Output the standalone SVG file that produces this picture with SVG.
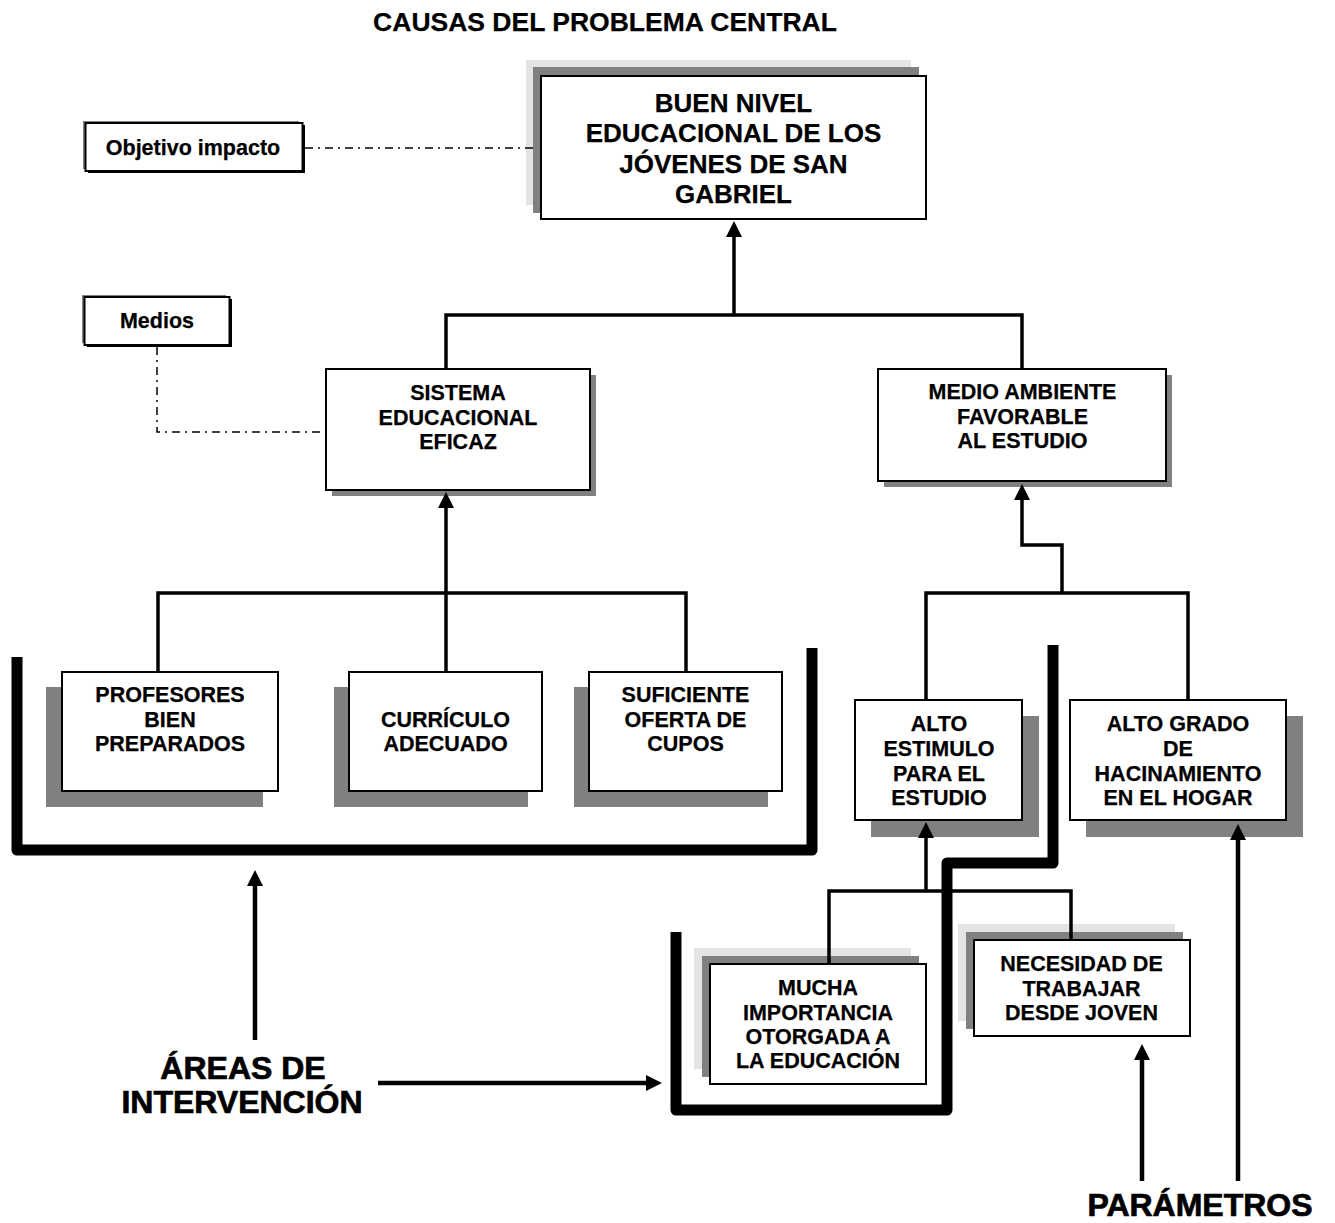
<svg xmlns="http://www.w3.org/2000/svg" width="1335" height="1223" viewBox="0 0 1335 1223">
  <defs>
    <style>
      .box{fill:#fff;stroke:#000;stroke-width:2}
      .sh{fill:#808080}
      .sh2{fill:#e4e4e4}
      .blk{fill:#000}
      .t{font-family:'Liberation Sans',Arial,Helvetica,sans-serif;font-weight:bold;font-size:21.5px;text-anchor:middle;fill:#000;stroke:#000;stroke-width:0.25}
      .tb{font-size:26px}
      .ttl{font-size:26.5px}
      .big{font-size:32px;stroke-width:0.7}
      .ln{fill:none;stroke:#000;stroke-width:3.5}
      .arr{fill:none;stroke:#000;stroke-width:4.5}
      .mk{marker-end:url(#ah)}
      .dd{fill:none;stroke:#000;stroke-width:1.5;stroke-dasharray:8 5 2 5}
      .br{fill:none;stroke:#000;stroke-width:11;stroke-linejoin:round}
    </style>
    <marker id="ah" viewBox="0 0 16 16" refX="2" refY="8" markerWidth="16" markerHeight="16" markerUnits="userSpaceOnUse" orient="auto">
      <path d="M0,0 L16,8 L0,16 z" fill="#000"/>
    </marker>
  </defs>

  <rect width="1335" height="1223" fill="#fff"/>

  <text class="t ttl" x="605" y="31">CAUSAS DEL PROBLEMA CENTRAL</text>

  <!-- goal node -->
  <g id="objetivo-central">
    <rect class="sh2" x="526" y="60" width="385" height="145"/>
    <rect class="sh" x="533" y="67" width="386" height="146"/>
    <rect class="box" x="541" y="76" width="385" height="143"/>
    <text class="t tb" x="733.5" y="111.5">BUEN NIVEL</text>
    <text class="t tb" x="733.5" y="142">EDUCACIONAL DE LOS</text>
    <text class="t tb" x="733.5" y="172.5">JÓVENES DE SAN</text>
    <text class="t tb" x="733.5" y="203">GABRIEL</text>
  </g>

  <g id="objetivo-impacto">
    <rect class="blk" x="88" y="125" width="217" height="48"/>
    <rect class="sh" x="83" y="121" width="216" height="48"/>
    <rect class="box" x="85.5" y="123" width="217" height="48" stroke-width="1.5"/>
    <text class="t" x="193" y="155" font-size="21px">Objetivo impacto</text>
  </g>

  <g id="medios">
    <rect class="blk" x="87" y="299" width="145" height="48"/>
    <rect class="sh" x="82" y="295" width="144" height="48"/>
    <rect class="box" x="84.5" y="297" width="145" height="48" stroke-width="1.5"/>
    <text class="t" x="157" y="328" font-size="21px">Medios</text>
  </g>

  <!-- second level -->
  <g id="sistema-educacional">
    <rect class="sh" x="332" y="375" width="264" height="121"/>
    <rect class="box" x="326" y="369" width="264" height="121"/>
    <text class="t" x="458" y="400">SISTEMA</text>
    <text class="t" x="458" y="424.5">EDUCACIONAL</text>
    <text class="t" x="458" y="449">EFICAZ</text>
  </g>

  <g id="medio-ambiente">
    <rect class="sh" x="884" y="375" width="288" height="112"/>
    <rect class="box" x="878" y="369" width="288" height="112"/>
    <text class="t" x="1022.5" y="399">MEDIO AMBIENTE</text>
    <text class="t" x="1022.5" y="424">FAVORABLE</text>
    <text class="t" x="1022.5" y="448">AL ESTUDIO</text>
  </g>

  <!-- third level, left branch -->
  <g id="profesores">
    <rect class="sh" x="46" y="687" width="217" height="120"/>
    <rect class="box" x="62" y="672" width="216" height="119"/>
    <text class="t" x="170" y="701.5">PROFESORES</text>
    <text class="t" x="170" y="726.5">BIEN</text>
    <text class="t" x="170" y="750.5">PREPARADOS</text>
  </g>

  <g id="curriculo">
    <rect class="sh" x="334" y="687" width="194" height="120"/>
    <rect class="box" x="349" y="672" width="193" height="119"/>
    <text class="t" x="445.5" y="726.5">CURRÍCULO</text>
    <text class="t" x="445.5" y="750.5">ADECUADO</text>
  </g>

  <g id="oferta-cupos">
    <rect class="sh" x="574" y="687" width="194" height="120"/>
    <rect class="box" x="589" y="672" width="193" height="119"/>
    <text class="t" x="685.5" y="701.5">SUFICIENTE</text>
    <text class="t" x="685.5" y="726.5">OFERTA DE</text>
    <text class="t" x="685.5" y="750.5">CUPOS</text>
  </g>

  <!-- third level, right branch -->
  <g id="alto-estimulo">
    <rect class="sh" x="871" y="716" width="168" height="121"/>
    <rect class="box" x="855" y="700" width="167" height="120"/>
    <text class="t" x="939" y="730.5">ALTO</text>
    <text class="t" x="939" y="755.5">ESTIMULO</text>
    <text class="t" x="939" y="780.5">PARA EL</text>
    <text class="t" x="939" y="804.5">ESTUDIO</text>
  </g>

  <g id="hacinamiento">
    <rect class="sh" x="1086" y="716" width="217" height="121"/>
    <rect class="box" x="1070" y="700" width="216" height="120"/>
    <text class="t" x="1178" y="730.5">ALTO GRADO</text>
    <text class="t" x="1178" y="755.5">DE</text>
    <text class="t" x="1178" y="780.5">HACINAMIENTO</text>
    <text class="t" x="1178" y="804.5">EN EL HOGAR</text>
  </g>

  <!-- fourth level -->
  <g id="importancia-educacion">
    <rect class="sh2" x="694" y="948" width="217" height="121"/>
    <rect class="sh" x="702" y="956" width="217" height="121"/>
    <rect class="box" x="710" y="964" width="216" height="120"/>
    <text class="t" x="818" y="995">MUCHA</text>
    <text class="t" x="818" y="1020">IMPORTANCIA</text>
    <text class="t" x="818" y="1044">OTORGADA A</text>
    <text class="t" x="818" y="1068">LA EDUCACIÓN</text>
  </g>

  <g id="necesidad-trabajar">
    <rect class="sh2" x="958" y="924" width="217" height="97"/>
    <rect class="sh" x="966" y="932" width="217" height="97"/>
    <rect class="box" x="974" y="940" width="216" height="96"/>
    <text class="t" x="1081.5" y="971">NECESIDAD DE</text>
    <text class="t" x="1081.5" y="996">TRABAJAR</text>
    <text class="t" x="1081.5" y="1020">DESDE JOVEN</text>
  </g>

  <!-- connectors -->
  <g id="connectors">
    <path class="dd" d="M305,148 H534"/>
    <path class="dd" d="M157,347 V432 H326"/>

    <path class="ln mk" d="M734,315 V235"/>
    <path class="ln" d="M446,369 V315 H1022 V369"/>

    <path class="ln mk" d="M446,593 V506"/>
    <path class="ln" d="M158,672 V593 H686 V672 M446,593 V672"/>

    <path class="ln mk" d="M1062,593 V545 H1022 V498"/>
    <path class="ln" d="M926,700 V593 H1188 V700"/>

    <path class="ln mk" d="M926,891 V836"/>
    <path class="ln" d="M829,964 V891 H1071 V940"/>

    <path class="arr mk" d="M255,1040 V884"/>
    <path class="arr mk" d="M378,1083 H648"/>
    <path class="arr mk" d="M1142,1181 V1058"/>
    <path class="arr mk" d="M1238,1181 V838"/>
  </g>

  <!-- intervention area brackets -->
  <g id="areas-intervencion">
    <path class="br" d="M17,657 V850 H812 V648"/>
    <path class="br" d="M1053,645 V863 H947 V1110 H676 V932"/>
  </g>

  <g id="etiquetas">
    <text class="t big" x="243" y="1079">ÁREAS DE</text>
    <text class="t big" x="242" y="1113">INTERVENCIÓN</text>
    <text class="t big" x="1200" y="1216">PARÁMETROS</text>
  </g>
</svg>
